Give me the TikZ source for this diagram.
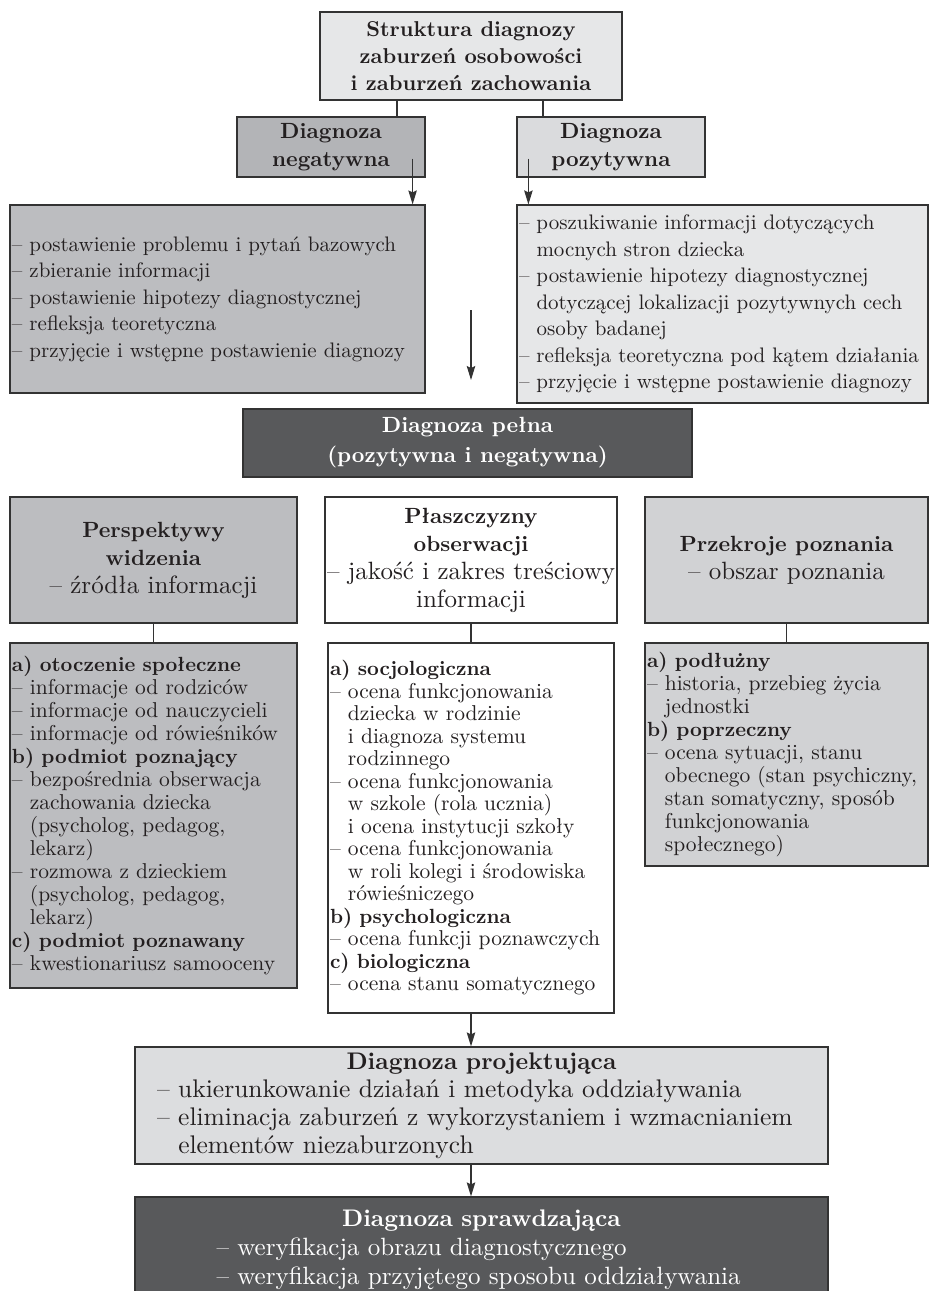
\documentclass[tikz,border=0pt]{standalone}
\usepackage{fontspec}
\setmainfont{lmroman10-regular}[Extension=.otf, BoldFont=lmroman10-bold]
\usepackage{tikz}
\usetikzlibrary{arrows.meta}
\usepackage{xcolor}

\definecolor{paleGray}{HTML}{E6E7E8}
\definecolor{midGray}{HTML}{B3B4B7}
\definecolor{softGray}{HTML}{BCBDC0}
\definecolor{posGray}{HTML}{DADBDD}
\definecolor{cutGray}{HTML}{D1D2D4}
\definecolor{projGray}{HTML}{DCDDDF}
\definecolor{darkGray}{HTML}{58595B}
\definecolor{frame}{HTML}{333333}
\definecolor{ink}{HTML}{231F20}

\newcommand{\contline}{\hphantom{– }}
\newcommand{\lbl}[1]{{\fontsize{20.5}{23}\selectfont\bfseries #1}}
\newcommand{\lighttext}[1]{{\fontsize{25}{28}\selectfont\mdseries #1}}

\begin{document}
\begin{tikzpicture}[
    x=1pt, y=-1pt,
    text=ink,
    box/.style={draw=frame, line width=1.2pt, inner sep=2pt},
    headbox/.style={box, align=center, font=\fontsize{22}{28}\selectfont\bfseries},
    listbox/.style={box, align=left, font=\fontsize{21}{26.5}\selectfont},
    smallbox/.style={box, align=left, font=\fontsize{21.5}{23}\selectfont},
    link/.style={draw=frame, line width=1.2pt},
    arrow/.style={link, -{Stealth[length=14pt, width=8.5pt, inset=2pt]}}
]
    \useasboundingbox (0,0) rectangle (929,1291);

    % Root and the two kinds of diagnosis
    \node[headbox, fill=paleGray, font=\fontsize{21.5}{27}\selectfont\bfseries,
          minimum width=302pt, minimum height=88pt] (root) at (471,56)
        {Struktura diagnozy\\zaburzeń osobowości\\i zaburzeń zachowania};
    \node[headbox, fill=midGray, minimum width=188pt, minimum height=60pt] (neg) at (331,147)
        {Diagnoza\\negatywna};
    \node[headbox, fill=posGray, minimum width=188pt, minimum height=60pt] (pos) at (611,147)
        {Diagnoza\\pozytywna};

    % Steps of both diagnoses
    \node[listbox, fill=softGray, text width=411pt, minimum height=188pt] (negList) at (217.5,299) {%
        – postawienie problemu i pytań bazowych\\
        – zbieranie informacji\\
        – postawienie hipotezy diagnostycznej\\
        – refleksja teoretyczna\\
        – przyjęcie i wstępne postawienie diagnozy};
    \node[listbox, fill=paleGray, text width=407pt, minimum height=198pt] (posList) at (722.5,304) {%
        – poszukiwanie informacji dotyczących\\
        \contline mocnych stron dziecka\\
        – postawienie hipotezy diagnostycznej\\
        \contline dotyczącej lokalizacji pozytywnych cech\\
        \contline osoby badanej\\
        – refleksja teoretyczna pod kątem działania\\
        – przyjęcie i wstępne postawienie diagnozy};

    % Full diagnosis
    \node[headbox, fill=darkGray, text=white, font=\fontsize{22}{30}\selectfont\bfseries,
          minimum width=449pt, minimum height=68pt] (full) at (467.5,443)
        {Diagnoza pełna\\(pozytywna i negatywna)};

    % Three views
    \node[headbox, fill=softGray, minimum width=287pt, minimum height=126pt] (persp) at (153.5,560)
        {Perspektywy\\widzenia\\\lighttext{– źródła informacji}};
    \node[headbox, fill=white, minimum width=286pt, minimum height=126pt] (plasz) at (471,560)
        {Płaszczyzny\\obserwacji\\\lighttext{– jakość i zakres treściowy}\\\lighttext{informacji}};
    \node[headbox, fill=cutGray, minimum width=283pt, minimum height=126pt] (przekr) at (786.5,560)
        {Przekroje poznania\\\lighttext{– obszar poznania}};

    \node[smallbox, fill=softGray, text width=283pt, minimum height=345pt] (perspList) at (153.5,815.5) {%
        \lbl{a) otoczenie społeczne}\\
        – informacje od rodziców\\
        – informacje od nauczycieli\\
        – informacje od rówieśników\\
        \lbl{b) podmiot poznający}\\
        – bezpośrednia obserwacja\\
        \contline zachowania dziecka\\
        \contline (psycholog, pedagog,\\
        \contline lekarz)\\
        – rozmowa z dzieckiem\\
        \contline (psycholog, pedagog,\\
        \contline lekarz)\\
        \lbl{c) podmiot poznawany}\\
        – kwestionariusz samooceny};
    \node[smallbox, fill=white, font=\fontsize{21.5}{22.5}\selectfont, text width=282pt,
          minimum height=370pt] (plaszList) at (471,828) {%
        \lbl{a) socjologiczna}\\
        – ocena funkcjonowania\\
        \contline dziecka w rodzinie\\
        \contline i diagnoza systemu\\
        \contline rodzinnego\\
        – ocena funkcjonowania\\
        \contline w szkole (rola ucznia)\\
        \contline i ocena instytucji szkoły\\
        – ocena funkcjonowania\\
        \contline w roli kolegi i środowiska\\
        \contline rówieśniczego\\
        \lbl{b) psychologiczna}\\
        – ocena funkcji poznawczych\\
        \lbl{c) biologiczna}\\
        – ocena stanu somatycznego};
    \node[smallbox, fill=cutGray, text width=279pt, minimum height=223pt] (przekrList) at (786.5,754.5) {%
        \lbl{a) podłużny}\\
        – historia, przebieg życia\\
        \contline jednostki\\
        \lbl{b) poprzeczny}\\
        – ocena sytuacji, stanu\\
        \contline obecnego (stan psychiczny,\\
        \contline stan somatyczny, sposób\\
        \contline funkcjonowania\\
        \contline społecznego)};

    % Projecting and checking diagnosis
    \node[box, fill=projGray, align=left, font=\fontsize{25.5}{28}\selectfont, text width=649pt,
          inner xsep=22pt, minimum height=117pt] (proj) at (481.5,1105.5) {%
        \makebox[\linewidth]{\fontsize{24}{28}\selectfont\bfseries Diagnoza projektująca}\\
        – ukierunkowanie działań i metodyka oddziaływania\\
        – eliminacja zaburzeń z wykorzystaniem i wzmacnianiem\\
        \contline elementów niezaburzonych};
    \node[box, fill=darkGray, text=white, align=left, font=\fontsize{25}{29}\selectfont, text width=530pt,
          minimum width=693pt, minimum height=106pt] (spraw) at (481.5,1250) {%
        \makebox[\linewidth]{\fontsize{24}{29}\selectfont\bfseries Diagnoza sprawdzająca}\\
        – weryfikacja obrazu diagnostycznego\\
        – weryfikacja przyjętego sposobu oddziaływania};

    % Connectors
    \draw[link] ([xshift=-74pt]root.south) -- ([xshift=-74pt]root.south |- neg.north);
    \draw[link] ([xshift=72pt]root.south) -- ([xshift=72pt]root.south |- pos.north);
    \draw[arrow] ([xshift=-13pt, yshift=19pt]neg.south east) -- ([xshift=-13pt]neg.south east |- negList.north);
    \draw[arrow] ([xshift=12pt, yshift=19pt]pos.south west) -- ([xshift=12pt]pos.south west |- posList.north);
    \coordinate (gapTop) at (471,310);
    \coordinate (gapEnd) at (471,380);
    \draw[arrow] (gapTop) -- (gapEnd);
    \draw[link] (persp.south) -- (perspList.north);
    \draw[link] (plasz.south) -- (plaszList.north);
    \draw[link] (przekr.south) -- (przekrList.north);
    \draw[arrow] (plaszList.south) -- (plaszList.south |- proj.north);
    \draw[arrow] (plaszList.south |- proj.south) -- (plaszList.south |- spraw.north);
\end{tikzpicture}
\end{document}
